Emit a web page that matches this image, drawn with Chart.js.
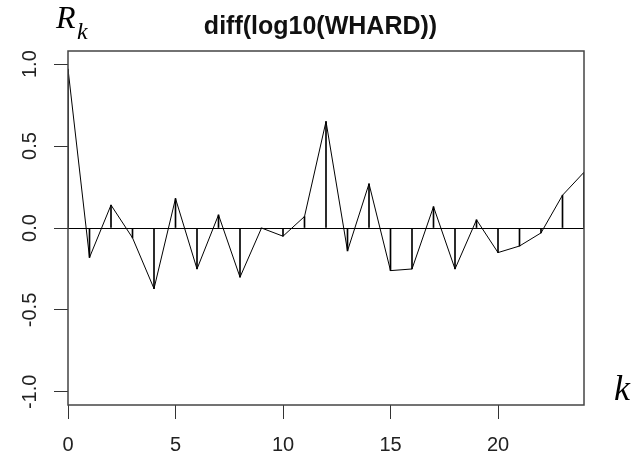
<!DOCTYPE html>
<html>
<head>
<meta charset="utf-8">
<script src="https://cdn.jsdelivr.net/npm/chart.js@4.4.1/dist/chart.umd.min.js"></script>
<style>
  html, body { margin: 0; padding: 0; background: #fff; }
  canvas { display: block; }
</style>
</head>
<body>
<canvas id="acf" width="641" height="468"></canvas>
<script>
// lag and autocorrelation
const lags = [0, 1, 2, 3, 4, 5, 6, 7, 8, 9, 10, 11, 12, 13, 14, 15, 16, 17, 18, 19, 20, 21, 22, 23, 24];
const acfValues = [0.97, -0.18, 0.14, -0.06, -0.37, 0.18, -0.25, 0.08, -0.30, 0.00, -0.05, 0.07, 0.65,
                   -0.14, 0.27, -0.26, -0.25, 0.13, -0.25, 0.05, -0.15, -0.11, -0.03, 0.20, 0.34];
const xTicks = [0, 5, 10, 15, 20];
const yTicks = [-1, -0.5, 0, 0.5, 1];
const yTickLabels = ['-1.0', '-0.5', '0.0', '0.5', '1.0'];

const points = lags.map((k, i) => ({ x: k, y: acfValues[i] }));
const sans = "'Liberation Sans', Arial, sans-serif";
const serif = "'Liberation Serif', 'Times New Roman', serif";

// box round the plot, rotated y labels and the R_k / k axis names
const extras = {
  id: 'extras',
  afterDraw(chart) {
    const { ctx, chartArea: a, scales } = chart;
    ctx.save();
    ctx.strokeStyle = '#444';
    ctx.lineWidth = 1.5;
    ctx.strokeRect(a.left, a.top, a.right - a.left, a.bottom - a.top);

    ctx.fillStyle = '#222';
    ctx.font = '20px ' + sans;
    ctx.textAlign = 'center';
    ctx.textBaseline = 'middle';
    yTicks.forEach((v, i) => {
      ctx.save();
      ctx.translate(30, scales.y.getPixelForValue(v));
      ctx.rotate(-Math.PI / 2);
      ctx.fillText(yTickLabels[i], 0, 0);
      ctx.restore();
    });

    ctx.fillStyle = '#000';
    ctx.textAlign = 'left';
    ctx.textBaseline = 'alphabetic';
    ctx.font = 'italic 32px ' + serif;
    ctx.fillText('R', 56, 28);
    ctx.font = 'italic 24px ' + serif;
    ctx.fillText('k', 77, 39);
    ctx.font = 'italic 36px ' + serif;
    ctx.fillText('k', 614, 400);
    ctx.restore();
  }
};

new Chart(document.getElementById('acf'), {
  type: 'bar',
  data: {
    datasets: [
      {
        type: 'line',
        data: points,
        borderColor: '#000',
        borderWidth: 1,
        pointRadius: 0,
        tension: 0
      },
      {
        type: 'bar',
        data: points,
        backgroundColor: '#000',
        barThickness: 1
      }
    ]
  },
  options: {
    responsive: false,
    animation: false,
    layout: { padding: 0 },
    plugins: {
      legend: { display: false },
      tooltip: { enabled: false },
      title: {
        display: true,
        text: 'diff(log10(WHARD))',
        color: '#111',
        font: { family: sans, size: 25, weight: 'bold' },
        padding: { top: 12, bottom: 9 }
      }
    },
    scales: {
      x: {
        type: 'linear',
        min: 0,
        max: 24,
        offset: false,
        grid: { offset: false, drawOnChartArea: false, tickLength: 14, tickColor: '#333' },
        border: { display: false },
        ticks: { stepSize: 5, color: '#222', font: { family: sans, size: 20 }, padding: 14, maxRotation: 0 },
        afterBuildTicks: s => { s.ticks = xTicks.map(v => ({ value: v })); },
        afterFit: s => { s.height = 63; }
      },
      y: {
        min: -1.08,
        max: 1.08,
        grid: {
          color: c => (c.tick && c.tick.value === 0 ? '#000' : 'rgba(0,0,0,0)'),
          tickColor: '#333',
          tickLength: 14
        },
        border: { display: false },
        ticks: { display: false },
        afterBuildTicks: s => { s.ticks = yTicks.map(v => ({ value: v })); },
        afterFit: s => { s.width = 68; }
      },
      // empty right axis, only keeps the margin where the k label sits
      yRight: {
        position: 'right',
        min: -1.08,
        max: 1.08,
        grid: { drawOnChartArea: false, drawTicks: false },
        border: { display: false },
        ticks: { display: false },
        afterFit: s => { s.width = 57; }
      }
    }
  },
  plugins: [extras]
});
</script>
</body>
</html>
